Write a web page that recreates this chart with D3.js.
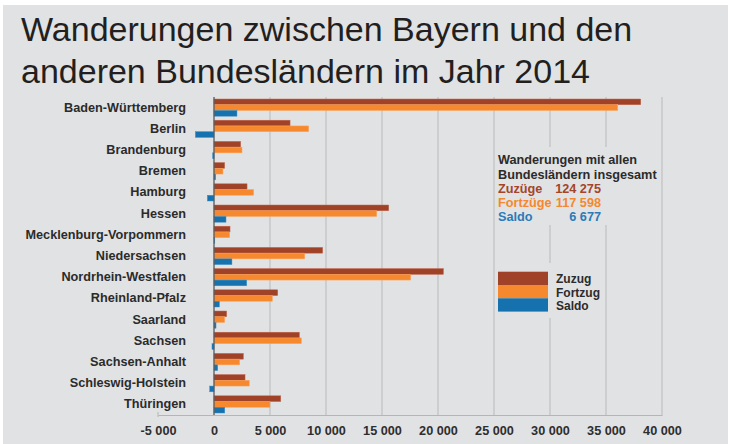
<!DOCTYPE html>
<html><head><meta charset="utf-8">
<script src="https://cdn.jsdelivr.net/npm/d3@7"></script>
<style>
body{margin:0;background:#fff}
svg{display:block;font-family:"Liberation Sans",Arial,Helvetica,sans-serif}
</style>
</head><body>
<svg id="c" width="729" height="444"></svg>
<script>
// ---- data ----
const categories = ["Baden-Württemberg","Berlin","Brandenburg","Bremen","Hamburg","Hessen",
  "Mecklenburg-Vorpommern","Niedersachsen","Nordrhein-Westfalen","Rheinland-Pfalz","Saarland",
  "Sachsen","Sachsen-Anhalt","Schleswig-Holstein","Thüringen"];
const zuzug   = [38100, 6790, 2380,  950, 2950, 15600, 1430, 9700, 20480, 5690, 1130, 7620, 2620, 2770, 5960];
const fortzug = [36050, 8450, 2500,  800, 3540, 14530, 1400, 8100, 17560, 5210,  950, 7800, 2290, 3150, 5000];
const saldo   = [ 2050,-1660, -120,  150, -590,  1070,   30, 1600,  2920,  480,  180, -180,  330, -380,  960];
const seriesNames = ["Zuzug","Fortzug","Saldo"];
const seriesColors = ["#9f4228","#f6892d","#1572ae"];
const seriesStrokes = ["#c2644a","#fba45c","#3f8fc4"];
const tickValues = [-5000,0,5000,10000,15000,20000,25000,30000,35000,40000];
const titleLines = ["Wanderungen zwischen Bayern und den","anderen Bundesländern im Jahr 2014"];
const totalsHeading = ["Wanderungen mit allen","Bundesländern insgesamt"];
const totalsLabels = ["Zuzüge","Fortzüge","Saldo"];
const totalsValues = [124275,117598,6677];
const totalsColors = ["#a4452a","#f5882e","#2a7bb8"];

// ---- setup ----
const loc = d3.formatLocale({decimal:",", thousands:" ", grouping:[3], currency:["","€"], minus:"-"});
const fmt = loc.format(",d");
const svg = d3.select("#c");
const bg = "#e1e2e4";
svg.append("rect").attr("x",3).attr("y",5).attr("width",725).attr("height",439).attr("fill",bg);

const x = d3.scaleLinear().domain([-5000,40000]).range([158,662]);
const y = d3.scaleBand().domain(categories).range([97,415]).paddingInner(0.19).paddingOuter(0.095);
const ys = d3.scaleBand().domain(seriesNames).range([0,y.bandwidth()]);
const plotTop = 97, plotBottom = 415;

// title
svg.append("g").selectAll("text").data(titleLines).join("text")
  .attr("x",21).attr("y",(d,i)=>41+i*41.5)
  .attr("font-size",34).attr("fill","#231f20").text(d=>d);

// gridlines
svg.append("g").selectAll("line").data(tickValues.filter(v=>v>0)).join("line")
  .attr("x1",d=>x(d)).attr("x2",d=>x(d)).attr("y1",plotTop).attr("y2",plotBottom)
  .attr("stroke","#b9b9bb").attr("stroke-width",1);

// boxes covering gridlines (annotation + legend)
svg.append("rect").attr("x",496).attr("y",147).attr("width",164).attr("height",78).attr("fill",bg);
svg.append("rect").attr("x",496).attr("y",263).attr("width",108).attr("height",55).attr("fill",bg);

// axis
const axis = d3.axisBottom(x).tickValues(tickValues).tickFormat(d=>fmt(d)).tickSize(0).tickPadding(11);
const ag = svg.append("g").attr("transform",`translate(0,${plotBottom})`).call(axis);
ag.select(".domain").attr("stroke","#b5b5b7").attr("stroke-width",1);
ag.selectAll("text").attr("font-family","'Liberation Sans',Arial,sans-serif")
  .attr("font-size",12.7).attr("font-weight","bold").attr("fill","#2e2e2e");
svg.append("line").attr("x1",x(-5000)).attr("x2",x(-5000)).attr("y1",plotBottom-3).attr("y2",plotBottom+2)
  .attr("stroke","#b5b5b7");

// bars
const seriesData = [zuzug, fortzug, saldo];
const gBars = svg.append("g");
seriesData.forEach((vals,si)=>{
  gBars.append("g").selectAll("rect").data(categories.map((c,i)=>({c,v:vals[i]}))).join("rect")
    .attr("x",d=>x(Math.min(0,d.v)))
    .attr("y",d=>y(d.c)+ys(seriesNames[si]))
    .attr("width",d=>Math.max(0.8,Math.abs(x(d.v)-x(0))))
    .attr("height",ys.bandwidth())
    .attr("fill",seriesColors[si])
    .attr("stroke",seriesStrokes[si]).attr("stroke-width",0.5);
});

// zero line
svg.append("line").attr("x1",x(0)).attr("x2",x(0)).attr("y1",plotTop).attr("y2",plotBottom)
  .attr("stroke","#5a5a5c").attr("stroke-width",1.3);

// category labels
svg.append("g").selectAll("text").data(categories).join("text")
  .attr("x",186).attr("y",d=>y(d)+12.6)
  .attr("text-anchor","end").attr("font-size",12.7).attr("font-weight","bold").attr("fill","#2b2b2b")
  .text(d=>d);

// totals annotation
const ann = svg.append("g").attr("font-size",12.7).attr("font-weight","bold");
ann.selectAll("text.h").data(totalsHeading).join("text").attr("class","h")
  .attr("x",498).attr("y",(d,i)=>164.3+i*14.2).attr("fill","#2b2b2b").text(d=>d);
ann.selectAll("text.l").data(totalsLabels).join("text").attr("class","l")
  .attr("x",498).attr("y",(d,i)=>192.6+i*14.2).attr("fill",(d,i)=>totalsColors[i]).text(d=>d);
ann.selectAll("text.v").data(totalsValues).join("text").attr("class","v")
  .attr("x",601).attr("y",(d,i)=>192.6+i*14.2).attr("text-anchor","end")
  .attr("fill",(d,i)=>totalsColors[i]).text(d=>fmt(d));

// legend
const lg = svg.append("g");
seriesNames.forEach((s,i)=>{
  lg.append("rect").attr("x",498).attr("y",271.7+i*13.3).attr("width",50).attr("height",13.3)
    .attr("fill",seriesColors[i]);
  lg.append("text").attr("x",556).attr("y",283.2+i*13.4).attr("font-size",12).attr("font-weight","bold")
    .attr("fill","#2b2b2b").text(s);
});
</script>
</body></html>
